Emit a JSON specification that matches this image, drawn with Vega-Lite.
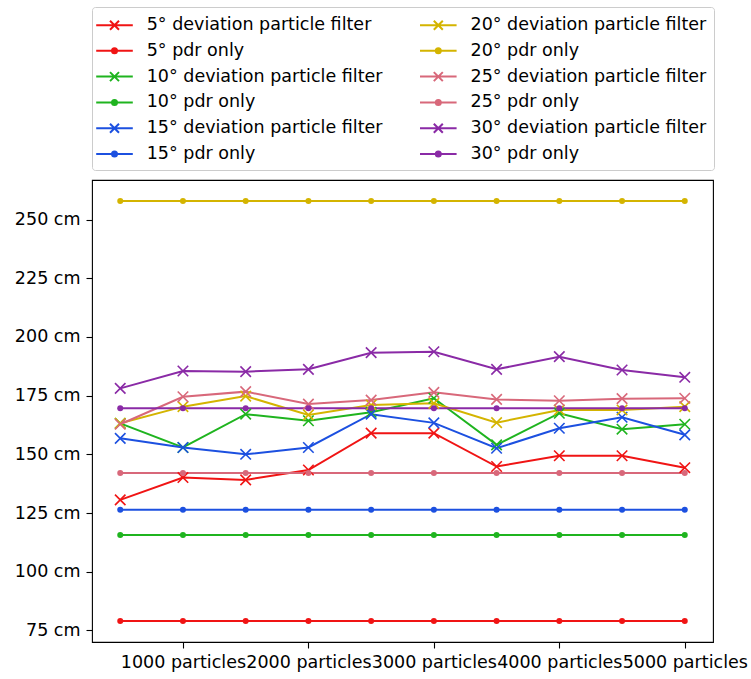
{
  "$schema": "https://vega.github.io/schema/vega-lite/v6.json",
  "width": 621,
  "height": 462,
  "autosize": {"type": "none"},
  "padding": {"left": 92, "top": 180, "right": 38, "bottom": 37},
  "background": "white",
  "config": {
    "font": "DejaVu Sans",
    "view": {"stroke": "#000000", "strokeWidth": 1.1},
    "axis": {"grid": false, "domain": false, "tickColor": "#000000", "tickSize": 6, "tickWidth": 1.1, "labelColor": "#000000", "labelFontSize": 17.5, "labelFont": "DejaVu Sans", "title": null}
  },
  "data": {"values": [
    {"s":"5° deviation particle filter","t":"pf","x":500,"y":130.6},
    {"s":"5° deviation particle filter","t":"pf","x":1000,"y":140.1},
    {"s":"5° deviation particle filter","t":"pf","x":1500,"y":139.1},
    {"s":"5° deviation particle filter","t":"pf","x":2000,"y":143.3},
    {"s":"5° deviation particle filter","t":"pf","x":2500,"y":159.0},
    {"s":"5° deviation particle filter","t":"pf","x":3000,"y":159.0},
    {"s":"5° deviation particle filter","t":"pf","x":3500,"y":144.8},
    {"s":"5° deviation particle filter","t":"pf","x":4000,"y":149.4},
    {"s":"5° deviation particle filter","t":"pf","x":4500,"y":149.4},
    {"s":"5° deviation particle filter","t":"pf","x":5000,"y":144.3},
    {"s":"5° pdr only","t":"pdr","x":500,"y":79.0},
    {"s":"5° pdr only","t":"pdr","x":1000,"y":79.0},
    {"s":"5° pdr only","t":"pdr","x":1500,"y":79.0},
    {"s":"5° pdr only","t":"pdr","x":2000,"y":79.0},
    {"s":"5° pdr only","t":"pdr","x":2500,"y":79.0},
    {"s":"5° pdr only","t":"pdr","x":3000,"y":79.0},
    {"s":"5° pdr only","t":"pdr","x":3500,"y":79.0},
    {"s":"5° pdr only","t":"pdr","x":4000,"y":79.0},
    {"s":"5° pdr only","t":"pdr","x":4500,"y":79.0},
    {"s":"5° pdr only","t":"pdr","x":5000,"y":79.0},
    {"s":"10° deviation particle filter","t":"pf","x":500,"y":163.2},
    {"s":"10° deviation particle filter","t":"pf","x":1000,"y":152.9},
    {"s":"10° deviation particle filter","t":"pf","x":1500,"y":167.1},
    {"s":"10° deviation particle filter","t":"pf","x":2000,"y":164.3},
    {"s":"10° deviation particle filter","t":"pf","x":2500,"y":167.9},
    {"s":"10° deviation particle filter","t":"pf","x":3000,"y":173.9},
    {"s":"10° deviation particle filter","t":"pf","x":3500,"y":154.0},
    {"s":"10° deviation particle filter","t":"pf","x":4000,"y":167.5},
    {"s":"10° deviation particle filter","t":"pf","x":4500,"y":160.7},
    {"s":"10° deviation particle filter","t":"pf","x":5000,"y":162.8},
    {"s":"10° pdr only","t":"pdr","x":500,"y":115.6},
    {"s":"10° pdr only","t":"pdr","x":1000,"y":115.6},
    {"s":"10° pdr only","t":"pdr","x":1500,"y":115.6},
    {"s":"10° pdr only","t":"pdr","x":2000,"y":115.6},
    {"s":"10° pdr only","t":"pdr","x":2500,"y":115.6},
    {"s":"10° pdr only","t":"pdr","x":3000,"y":115.6},
    {"s":"10° pdr only","t":"pdr","x":3500,"y":115.6},
    {"s":"10° pdr only","t":"pdr","x":4000,"y":115.6},
    {"s":"10° pdr only","t":"pdr","x":4500,"y":115.6},
    {"s":"10° pdr only","t":"pdr","x":5000,"y":115.6},
    {"s":"15° deviation particle filter","t":"pf","x":500,"y":156.8},
    {"s":"15° deviation particle filter","t":"pf","x":1000,"y":152.9},
    {"s":"15° deviation particle filter","t":"pf","x":1500,"y":150.0},
    {"s":"15° deviation particle filter","t":"pf","x":2000,"y":152.9},
    {"s":"15° deviation particle filter","t":"pf","x":2500,"y":167.1},
    {"s":"15° deviation particle filter","t":"pf","x":3000,"y":163.4},
    {"s":"15° deviation particle filter","t":"pf","x":3500,"y":152.6},
    {"s":"15° deviation particle filter","t":"pf","x":4000,"y":161.1},
    {"s":"15° deviation particle filter","t":"pf","x":4500,"y":165.8},
    {"s":"15° deviation particle filter","t":"pf","x":5000,"y":158.3},
    {"s":"15° pdr only","t":"pdr","x":500,"y":126.35},
    {"s":"15° pdr only","t":"pdr","x":1000,"y":126.35},
    {"s":"15° pdr only","t":"pdr","x":1500,"y":126.35},
    {"s":"15° pdr only","t":"pdr","x":2000,"y":126.35},
    {"s":"15° pdr only","t":"pdr","x":2500,"y":126.35},
    {"s":"15° pdr only","t":"pdr","x":3000,"y":126.35},
    {"s":"15° pdr only","t":"pdr","x":3500,"y":126.35},
    {"s":"15° pdr only","t":"pdr","x":4000,"y":126.35},
    {"s":"15° pdr only","t":"pdr","x":4500,"y":126.35},
    {"s":"15° pdr only","t":"pdr","x":5000,"y":126.35},
    {"s":"20° deviation particle filter","t":"pf","x":500,"y":163.2},
    {"s":"20° deviation particle filter","t":"pf","x":1000,"y":170.3},
    {"s":"20° deviation particle filter","t":"pf","x":1500,"y":174.8},
    {"s":"20° deviation particle filter","t":"pf","x":2000,"y":166.8},
    {"s":"20° deviation particle filter","t":"pf","x":2500,"y":171.0},
    {"s":"20° deviation particle filter","t":"pf","x":3000,"y":171.7},
    {"s":"20° deviation particle filter","t":"pf","x":3500,"y":163.5},
    {"s":"20° deviation particle filter","t":"pf","x":4000,"y":168.9},
    {"s":"20° deviation particle filter","t":"pf","x":4500,"y":168.9},
    {"s":"20° deviation particle filter","t":"pf","x":5000,"y":170.3},
    {"s":"20° pdr only","t":"pdr","x":500,"y":257.9},
    {"s":"20° pdr only","t":"pdr","x":1000,"y":257.9},
    {"s":"20° pdr only","t":"pdr","x":1500,"y":257.9},
    {"s":"20° pdr only","t":"pdr","x":2000,"y":257.9},
    {"s":"20° pdr only","t":"pdr","x":2500,"y":257.9},
    {"s":"20° pdr only","t":"pdr","x":3000,"y":257.9},
    {"s":"20° pdr only","t":"pdr","x":3500,"y":257.9},
    {"s":"20° pdr only","t":"pdr","x":4000,"y":257.9},
    {"s":"20° pdr only","t":"pdr","x":4500,"y":257.9},
    {"s":"20° pdr only","t":"pdr","x":5000,"y":257.9},
    {"s":"25° deviation particle filter","t":"pf","x":500,"y":162.8},
    {"s":"25° deviation particle filter","t":"pf","x":1000,"y":174.5},
    {"s":"25° deviation particle filter","t":"pf","x":1500,"y":176.7},
    {"s":"25° deviation particle filter","t":"pf","x":2000,"y":171.4},
    {"s":"25° deviation particle filter","t":"pf","x":2500,"y":173.1},
    {"s":"25° deviation particle filter","t":"pf","x":3000,"y":176.4},
    {"s":"25° deviation particle filter","t":"pf","x":3500,"y":173.4},
    {"s":"25° deviation particle filter","t":"pf","x":4000,"y":172.8},
    {"s":"25° deviation particle filter","t":"pf","x":4500,"y":173.7},
    {"s":"25° deviation particle filter","t":"pf","x":5000,"y":173.9},
    {"s":"25° pdr only","t":"pdr","x":500,"y":142.0},
    {"s":"25° pdr only","t":"pdr","x":1000,"y":142.0},
    {"s":"25° pdr only","t":"pdr","x":1500,"y":142.0},
    {"s":"25° pdr only","t":"pdr","x":2000,"y":142.0},
    {"s":"25° pdr only","t":"pdr","x":2500,"y":142.0},
    {"s":"25° pdr only","t":"pdr","x":3000,"y":142.0},
    {"s":"25° pdr only","t":"pdr","x":3500,"y":142.0},
    {"s":"25° pdr only","t":"pdr","x":4000,"y":142.0},
    {"s":"25° pdr only","t":"pdr","x":4500,"y":142.0},
    {"s":"25° pdr only","t":"pdr","x":5000,"y":142.0},
    {"s":"30° deviation particle filter","t":"pf","x":500,"y":178.1},
    {"s":"30° deviation particle filter","t":"pf","x":1000,"y":185.5},
    {"s":"30° deviation particle filter","t":"pf","x":1500,"y":185.2},
    {"s":"30° deviation particle filter","t":"pf","x":2000,"y":186.2},
    {"s":"30° deviation particle filter","t":"pf","x":2500,"y":193.3},
    {"s":"30° deviation particle filter","t":"pf","x":3000,"y":193.7},
    {"s":"30° deviation particle filter","t":"pf","x":3500,"y":186.2},
    {"s":"30° deviation particle filter","t":"pf","x":4000,"y":191.6},
    {"s":"30° deviation particle filter","t":"pf","x":4500,"y":185.9},
    {"s":"30° deviation particle filter","t":"pf","x":5000,"y":182.8},
    {"s":"30° pdr only","t":"pdr","x":500,"y":169.6},
    {"s":"30° pdr only","t":"pdr","x":1000,"y":169.6},
    {"s":"30° pdr only","t":"pdr","x":1500,"y":169.6},
    {"s":"30° pdr only","t":"pdr","x":2000,"y":169.6},
    {"s":"30° pdr only","t":"pdr","x":2500,"y":169.6},
    {"s":"30° pdr only","t":"pdr","x":3000,"y":169.6},
    {"s":"30° pdr only","t":"pdr","x":3500,"y":169.6},
    {"s":"30° pdr only","t":"pdr","x":4000,"y":169.6},
    {"s":"30° pdr only","t":"pdr","x":4500,"y":169.6},
    {"s":"30° pdr only","t":"pdr","x":5000,"y":169.6}
  ]},
  "encoding": {
    "x": {"field": "x", "type": "quantitative", "scale": {"domain": [275, 5225], "nice": false, "zero": false},
      "axis": {"values": [1000, 2000, 3000, 4000, 5000], "labelExpr": "datum.value + ' particles'", "labelOverlap": false, "labelFlush": false, "labelPadding": 5}},
    "y": {"field": "y", "type": "quantitative", "scale": {"domain": [70.05, 266.85], "nice": false, "zero": false},
      "axis": {"values": [75, 100, 125, 150, 175, 200, 225, 250], "labelExpr": "datum.value + ' cm'", "labelPadding": 6}},
    "color": {"field": "s", "type": "nominal",
      "scale": {
        "domain": ["5° deviation particle filter", "20° deviation particle filter", "5° pdr only", "20° pdr only", "10° deviation particle filter", "25° deviation particle filter", "10° pdr only", "25° pdr only", "15° deviation particle filter", "30° deviation particle filter", "15° pdr only", "30° pdr only"],
        "range": ["#f01414", "#d4b400", "#f01414", "#d4b400", "#1fb41f", "#d8687a", "#1fb41f", "#d8687a", "#1c50e0", "#8a2aa6", "#1c50e0", "#8a2aa6"]
      },
      "legend": {
        "title": null, "orient": "top", "offset": 10, "columns": 2,
        "labelFont": "DejaVu Sans", "labelFontSize": 17.5, "labelColor": "#000000", "labelLimit": 400,
        "symbolSize": 400, "symbolStrokeWidth": 2,
        "rowPadding": 5.8, "columnPadding": 32.8, "labelOffset": 25.7, "padding": 7,
        "strokeColor": "#cccccc", "fillColor": "#ffffff", "cornerRadius": 3,
        "encode": {"symbols": {"update": {
          "shape": {"signal": "indexof(datum.value, 'pdr') >= 0 ? 'M-1.38,0H2.28M0.7,0A0.25,0.25,0,1,1,0.2,0A0.25,0.25,0,1,1,0.7,0Z' : 'M-1.38,0H2.28M0,-0.45L0.9,0.45M0,0.45L0.9,-0.45'"},
          "fill": {"scale": "color", "field": "value"},
          "stroke": {"scale": "color", "field": "value"},
          "strokeWidth": {"value": 2},
          "opacity": {"value": 1},
          "fillOpacity": {"value": 1}
        }}}
      }
    }
  },
  "layer": [
    {"mark": {"type": "line", "strokeWidth": 2}, "encoding": {"detail": {"field": "s"}}},
    {"transform": [{"filter": "datum.t === 'pf'"}],
     "mark": {"type": "point", "shape": "M-1,-1L1,1M-1,1L1,-1", "filled": false, "size": 110, "strokeWidth": 1.6, "opacity": 1}},
    {"transform": [{"filter": "datum.t === 'pdr'"}],
     "mark": {"type": "point", "shape": "circle", "filled": true, "size": 36, "opacity": 1}}
  ]
}
